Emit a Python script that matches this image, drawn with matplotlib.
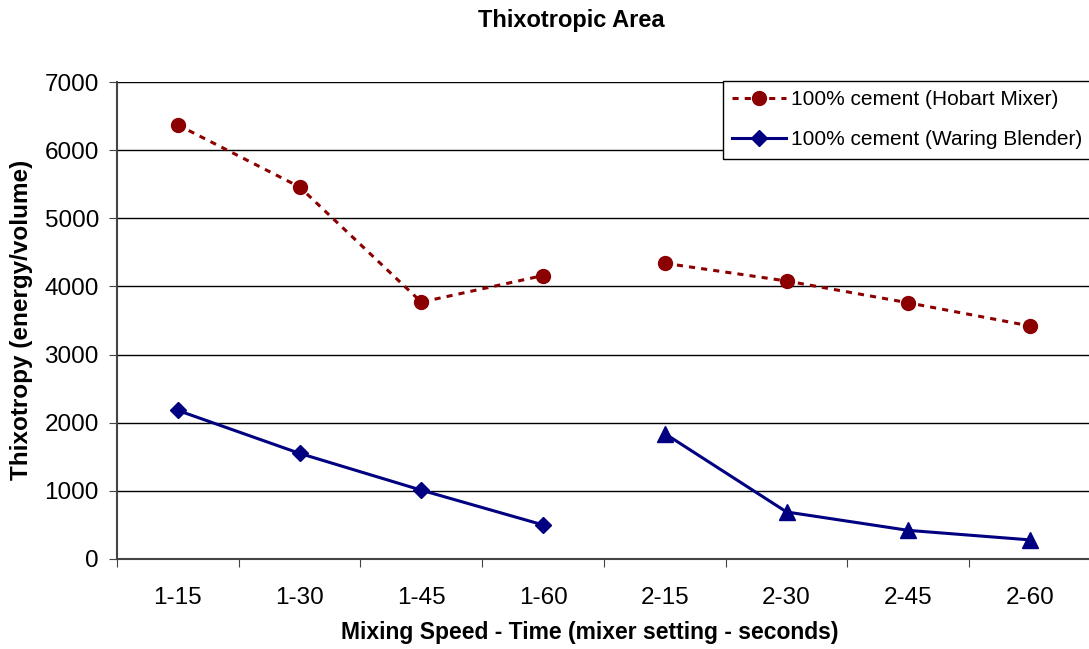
import matplotlib.pyplot as plt
from matplotlib.lines import Line2D

plt.rcParams['font.family'] = ['Liberation Sans', 'DejaVu Sans']

categories = ['1-15', '1-30', '1-45', '1-60', '2-15', '2-30', '2-45', '2-60']
hobart = [6370, 5460, 3770, 4160, 4340, 4080, 3760, 3420]
waring = [2180, 1550, 1010, 500, 1840, 690, 420, 280]

red = '#8B0000'
blue = '#000080'
dash = (0, (2.0, 2.0))

fig = plt.figure(figsize=(10.89, 6.49), dpi=100)
ax = fig.add_axes([0.1074, 0.1387, 0.8944, 0.7349])

x = list(range(len(categories)))

# gridlines
ax.set_ylim(0, 7000)
ax.set_xlim(-0.5, len(categories) - 0.5)
ax.set_yticks(range(0, 7001, 1000))
ax.yaxis.grid(True, color='#000000', linewidth=1.0)
ax.set_axisbelow(True)

# Hobart: dashed, two segments
ax.plot(x[:4], hobart[:4], linestyle=dash, color=red, linewidth=2.2,
        marker='o', markersize=10)
ax.plot(x[4:], hobart[4:], linestyle=dash, color=red, linewidth=2.2,
        marker='o', markersize=10)

# Waring: solid, diamonds then triangles
ax.plot(x[:4], waring[:4], color=blue, linewidth=2.2, marker='D', markersize=8)
ax.plot(x[4:], waring[4:], color=blue, linewidth=2.2, marker='^', markersize=11)

ax.set_xticks([i - 0.5 for i in range(len(categories) + 1)])
ax.set_xticklabels([])
ax.set_xticks(x, minor=True)
ax.set_xticklabels(categories, minor=True)
ax.tick_params(axis='x', which='major', length=6, direction='out', color='#444444')
ax.tick_params(axis='x', which='minor', length=0, pad=20, labelsize=17.5)
ax.tick_params(axis='y', length=6, labelsize=17.5, color='#444444', pad=7)

for side in ['top', 'right']:
    ax.spines[side].set_visible(False)
for side in ['left', 'bottom']:
    ax.spines[side].set_color('#444444')
    ax.spines[side].set_linewidth(1.5)

fig.text(590 / 1089, 1 - 633 / 649, 'Mixing Speed - Time (mixer setting - seconds)',
         ha='center', va='center', fontsize=16.5, fontweight='bold')
fig.text(22 / 1089, 1 - 320 / 649, 'Thixotropy (energy/volume)', rotation=90,
         ha='center', va='center', fontsize=17.5, fontweight='bold')
fig.text(571 / 1089, 1 - 20 / 649, 'Thixotropic Area', ha='center', va='center',
         fontsize=17, fontweight='bold')

handles = [
    Line2D([], [], linestyle=dash, color=red, linewidth=2.2, marker='o', markersize=10),
    Line2D([], [], color=blue, linewidth=2.2, marker='D', markersize=8),
]
labels = ['100% cement (Hobart Mixer)', '100% cement (Waring Blender)']
leg = fig.legend(handles, labels, loc='upper left',
                 bbox_to_anchor=(723 / 1089, 1 - 81 / 649),
                 bbox_transform=fig.transFigure,
                 fontsize=15.0, frameon=True, fancybox=False, borderpad=0.45,
                 handlelength=2.55, handletextpad=0.25, labelspacing=1.0,
                 borderaxespad=0.0, framealpha=1.0)
leg.get_frame().set_edgecolor('black')
leg.get_frame().set_linewidth(1.0)

fig.savefig('out.png', dpi=100)
